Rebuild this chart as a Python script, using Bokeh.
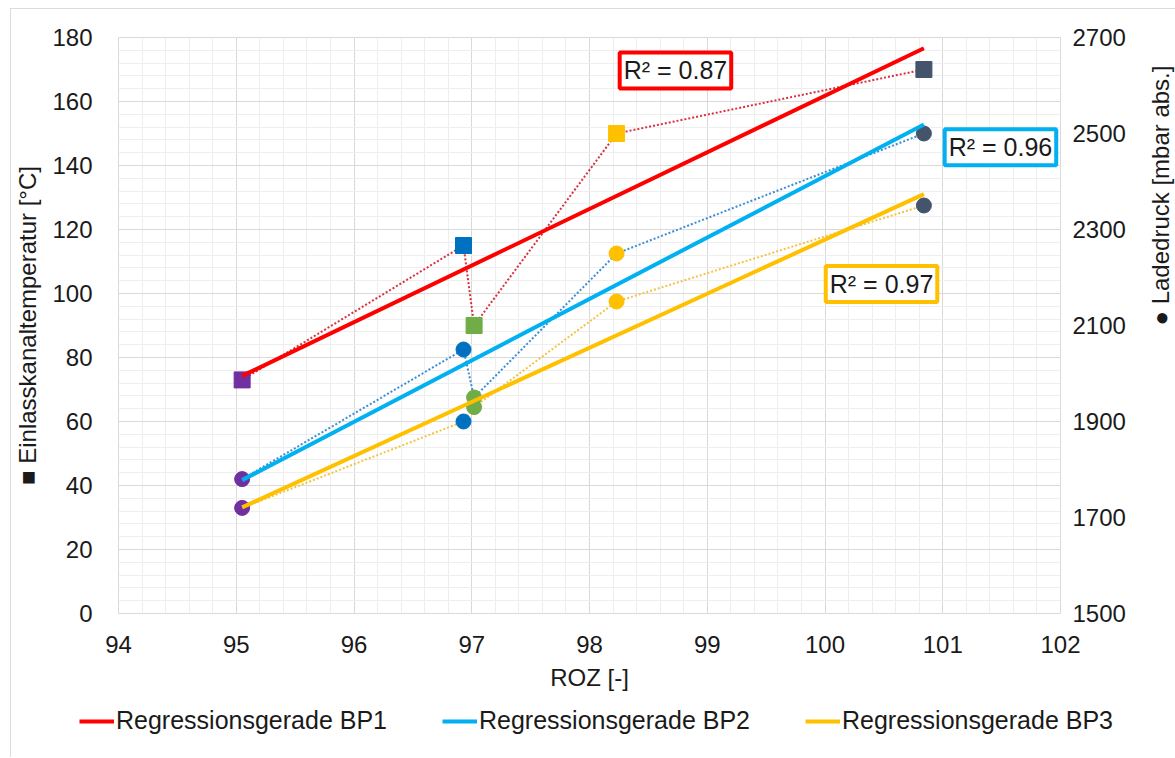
import numpy as np
from bokeh.plotting import figure
from bokeh.models import (Range1d, LinearAxis, SingleIntervalTicker, FixedTicker,
                          Label, Legend, LegendItem)
from bokeh.embed import file_html
from bokeh.resources import INLINE

# Measured operating points: octane number vs. intake port temperature / boost pressure
roz = [95.05, 96.93, 97.02, 98.23, 100.84]
temp_bp1 = [73, 115, 90, 150, 170]          # Einlasskanaltemperatur [°C], BP1
boost_bp2 = [1780, 2050, 1950, 2250, 2500]  # Ladedruck [mbar abs.], BP2
boost_bp3 = [1720, 1900, 1930, 2150, 2350]  # Ladedruck [mbar abs.], BP3

point_colors = ["#7030A0", "#0070C0", "#70AD47", "#FFC000", "#44546A"]
series_names = ["Regressionsgerade BP1", "Regressionsgerade BP2", "Regressionsgerade BP3"]
trend_colors = ["#FF0000", "#00B0F0", "#FFC000"]
dot_colors = ["#D8303F", "#3A8DD6", "#F4C343"]

r2_labels = ["R² = 0.87", "R² = 0.96", "R² = 0.97"]
r2_x = [98.73, 101.49, 100.48]
r2_y = [169.7, 145.7, 103.0]

temp_ticks = list(range(0, 181, 20))
boost_ticks = list(range(1500, 2701, 200))

FONT = "Liberation Sans"
TEXT = "#1a1a1a"
EDGE = "1px solid #dcdcdc"
PAGE_W = 1164

p = figure(frame_width=942, frame_height=576,
           min_border_left=103, min_border_right=119,
           min_border_top=28, min_border_bottom=86,
           x_range=Range1d(94, 102), y_range=Range1d(0, 180),
           output_backend="svg", toolbar_location=None)
p.styles = {"border-left": EDGE, "border-top": EDGE, "margin-left": "10px", "margin-top": "8px"}
p.extra_y_ranges = {"boost": Range1d(1500, 2700)}

p.outline_line_color = "#d9d9d9"
p.outline_line_width = 1
p.background_fill_color = "white"
p.border_fill_color = "white"

# axes
p.xaxis.ticker = SingleIntervalTicker(interval=1, num_minor_ticks=5)
p.yaxis.ticker = SingleIntervalTicker(interval=20, num_minor_ticks=5)
p.xaxis.axis_label = "ROZ [-]"
p.yaxis.axis_label = "\u25A0 Einlasskanaltemperatur [°C]"

right = LinearAxis(y_range_name="boost", ticker=FixedTicker(ticks=boost_ticks))
right.axis_label = "\u25CF Ladedruck [mbar abs.]"
if "axis_label_orientation" in right.properties():
    right.axis_label_orientation = np.pi / 2
p.add_layout(right, "right")

for ax in [p.xaxis[0], p.yaxis[0], right]:
    ax.axis_line_color = None
    ax.major_tick_line_color = None
    ax.minor_tick_line_color = None
    ax.major_label_text_font = FONT
    ax.major_label_text_font_size = "24px"
    ax.major_label_text_color = TEXT
    ax.axis_label_text_font = FONT
    ax.axis_label_text_font_size = "24px"
    ax.axis_label_text_font_style = "normal"
    ax.axis_label_text_color = TEXT

p.xaxis.major_label_standoff = 16
p.xaxis.axis_label_standoff = 8
p.yaxis.major_label_standoff = 20
p.yaxis.axis_label_standoff = 8
right.major_label_standoff = 6
right.axis_label_standoff = 32

# grid
for g in [p.xgrid[0], p.ygrid[0]]:
    g.grid_line_color = "#d9d9d9"
    g.grid_line_width = 1
    g.minor_grid_line_color = "#eeeeee"
    g.minor_grid_line_width = 1

# dotted connections between the operating points
p.line(roz, temp_bp1, line_color=dot_colors[0], line_width=2, line_dash="2 2")
p.line(roz, boost_bp2, y_range_name="boost", line_color=dot_colors[1], line_width=2, line_dash="2 2")
p.line(roz, boost_bp3, y_range_name="boost", line_color=dot_colors[2], line_width=2, line_dash="2 2")

# markers: squares = temperature, circles = boost pressure
p.scatter(roz, temp_bp1, marker="square", size=16, fill_color=point_colors, line_color=point_colors)
p.scatter(roz, boost_bp2, y_range_name="boost", marker="circle", size=15,
          fill_color=point_colors, line_color=point_colors)
p.scatter(roz, boost_bp3, y_range_name="boost", marker="circle", size=15,
          fill_color=point_colors, line_color=point_colors)

# linear regression lines over the measured ROZ span
x_arr = np.array(roz)
x_fit = np.array([x_arr.min(), x_arr.max()])
for ys, rng, col in [(temp_bp1, "default", trend_colors[0]),
                     (boost_bp2, "boost", trend_colors[1]),
                     (boost_bp3, "boost", trend_colors[2])]:
    k, d = np.polyfit(x_arr, np.array(ys, dtype=float), 1)
    p.line(x_fit, k * x_fit + d, y_range_name=rng, line_color=col, line_width=4)

# coefficient of determination boxes
for txt, lx, ly, col in zip(r2_labels, r2_x, r2_y, trend_colors):
    p.add_layout(Label(x=lx, y=ly, text=txt, text_align="center", text_baseline="middle",
                       text_font=FONT, text_font_size="25px", text_color=TEXT,
                       background_fill_color="white", border_line_color=col,
                       border_line_width=4, padding=4))

# legend strip underneath the chart (its own canvas, so it can span the full width)
lp = figure(width=PAGE_W, height=58, x_range=Range1d(0, 1), y_range=Range1d(0, 1),
            min_border=0, output_backend="svg", toolbar_location=None)
lp.styles = {"border-left": EDGE, "margin-left": "10px"}
lp.outline_line_color = None
lp.axis.visible = False
lp.grid.visible = False
items = []
for name, col in zip(series_names, trend_colors):
    # keys only: the segment lies outside the strip's visible range
    r = lp.line([-2, -1], [-2, -2], line_color=col, line_width=4)
    items.append(LegendItem(label=name, renderers=[r]))
legend = Legend(items=items, orientation="horizontal", location=(68, 22),
                label_text_font=FONT, label_text_font_size="25px", label_text_color=TEXT,
                glyph_width=35, glyph_height=20, label_standoff=2, spacing=55,
                border_line_color=None, background_fill_alpha=0, padding=0, margin=0)
lp.add_layout(legend, "center")

open("out.html", "w").write(file_html([p, lp], INLINE))
